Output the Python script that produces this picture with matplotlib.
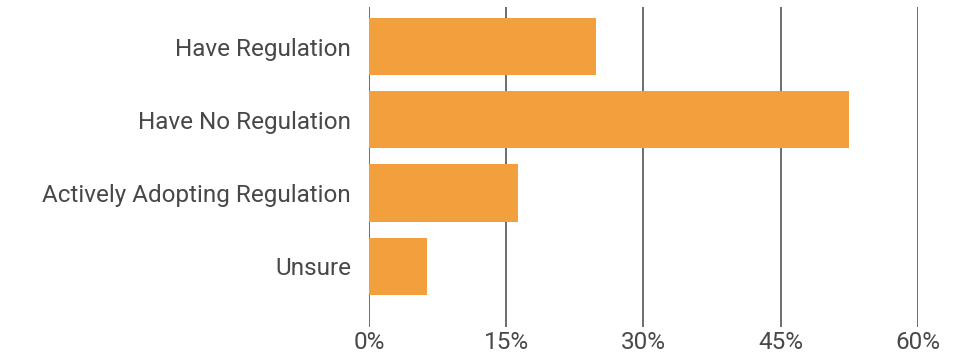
import matplotlib
matplotlib.use("Agg")
import matplotlib.pyplot as plt

categories = ["Have Regulation", "Have No Regulation",
              "Actively Adopting Regulation", "Unsure"]
shares = [24.8, 52.5, 16.3, 6.3]
ticks = [0, 15, 30, 45, 60]
tick_labels = ["0%", "15%", "30%", "45%", "60%"]

plt.rcParams["font.family"] = ["Roboto", "DejaVu Sans"]

fig = plt.figure(figsize=(9.61, 3.55), dpi=100)
ax = fig.add_axes([0.384, 0.079, 0.571, 0.901])

pos = list(range(len(categories)))
ax.barh(pos, shares, height=0.78, color="#F2A03D", zorder=2)

ax.set_xlim(0, 60)
ax.set_ylim(3.83, -0.54)
ax.set_xticks(ticks)
ax.set_xticklabels(tick_labels)
ax.set_yticks(pos)
ax.set_yticklabels(categories)

ax.grid(axis="x", color="#6e6e6e", linewidth=1.4, zorder=1)
ax.grid(axis="y", visible=False)
for s in ax.spines.values():
    s.set_visible(False)
ax.tick_params(axis="both", length=0, labelsize=17.5, labelcolor="#484848")
ax.tick_params(axis="y", pad=13)
ax.tick_params(axis="x", pad=3)

fig.savefig("out.png", dpi=100)
